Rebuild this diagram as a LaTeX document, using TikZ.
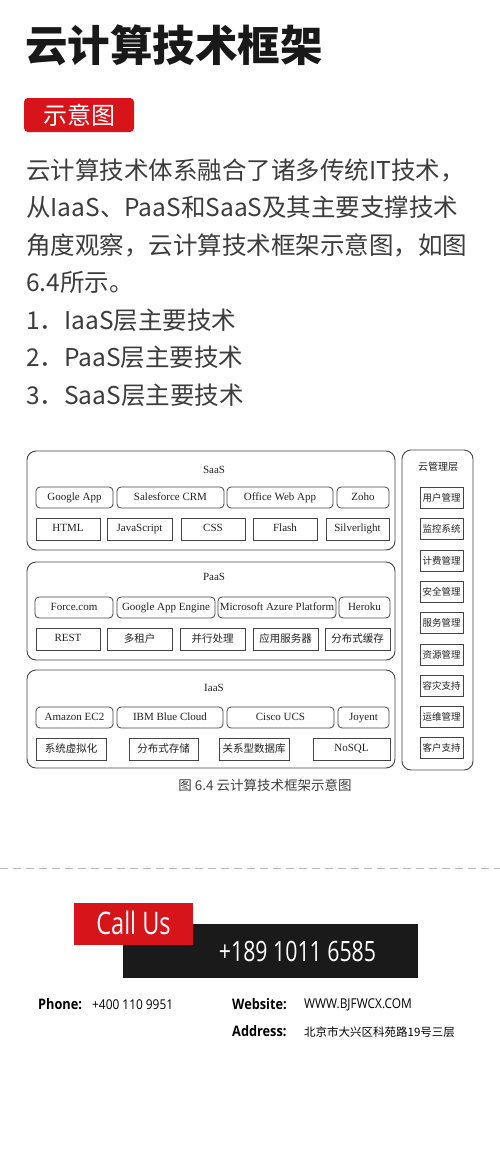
\documentclass[tikz,border=0pt]{standalone}
\usepackage{fontspec}
\setmainfont{Liberation Serif}
\newfontfamily\cjk{Noto Sans CJK SC}
\newfontfamily\tnr{Liberation Serif}
\newfontfamily\cond[FakeStretch=0.88]{Open Sans}
\newfontfamily\condcall[FakeStretch=0.76]{Open Sans}
\definecolor{linecol}{HTML}{444444}
\definecolor{diag}{HTML}{222222}
\definecolor{bodyc}{HTML}{3C3C3C}
\definecolor{redc}{HTML}{D7141A}
\definecolor{blk}{HTML}{1A1A1A}
\definecolor{dashc}{HTML}{BBBBBB}
\begin{document}
\begin{tikzpicture}[x=1pt,y=-1pt,
  layer/.style={draw=linecol,line width=0.9pt,rounded corners=9pt,inner sep=0pt},
  rb/.style={draw=linecol,line width=0.8pt,rounded corners=4pt,inner sep=0pt,minimum height=21pt,text height=7.6pt,text depth=2.4pt,text=diag,font=\tnr\fontsize{11}{13}\selectfont},
  sb/.style={draw=linecol,line width=0.8pt,inner sep=0pt,minimum height=22pt,text height=7.6pt,text depth=2.4pt,text=diag,font=\tnr\fontsize{11}{13}\selectfont},
  zb/.style={sb,text height=8pt,text depth=1.6pt,font=\cjk\fontsize{10.5}{12}\selectfont},
  mb/.style={draw=linecol,line width=0.8pt,inner sep=0pt,minimum width=43pt,minimum height=21pt,text=diag,font=\cjk\fontsize{9.5}{11}\selectfont},
  lbl/.style={inner sep=0pt,text=diag,font=\tnr\fontsize{11}{13}\selectfont},
  body/.style={anchor=west,inner sep=0pt,text=bodyc,font=\cjk\fontsize{24.5}{26}\selectfont},
  foot/.style={anchor=west,inner sep=0pt,text=black,font=\cond\fontsize{13.5}{15}\selectfont},
  footb/.style={anchor=west,inner sep=0pt,text=black,font=\cond\bfseries\fontsize{14.5}{16}\selectfont},
]
\useasboundingbox[fill=white] (0,0) rectangle (500,1170);

% title
\node[anchor=west,inner sep=0pt,font=\cjk\bfseries\fontsize{42.5}{46}\selectfont,text=black!90] (title) at (25,45) {云计算技术框架};
\node[fill=redc,rounded corners=4pt,minimum width=110pt,minimum height=34pt,inner sep=0pt,text=white,font=\cjk\fontsize{24}{26}\selectfont] (tag) at (79,115) {示意图};

% body text
\node[body] (l1) at (26,170) {云计算技术体系融合了诸多传统IT技术，};
\node[body] (l2) at (26,207.5) {从IaaS、PaaS和SaaS及其主要支撑技术};
\node[body] (l3) at (26,245) {角度观察，云计算技术框架示意图，如图};
\node[body] (l4) at (26,282.5) {6.4所示。};
\node[body] (l5) at (26,320) {1．IaaS层主要技术};
\node[body] (l6) at (26,357.5) {2．PaaS层主要技术};
\node[body] (l7) at (26,395) {3．SaaS层主要技术};

% SaaS layer
\node[layer,minimum width=368pt,minimum height=99pt] (saas) at (211,500.5) {};
\node[lbl] (saasl) at (214,470) {SaaS};
\node[rb,minimum width=77pt] (ga) at (74.5,497.5) {Google App};
\node[rb,minimum width=107pt] (sf) at (170.5,497.5) {Salesforce CRM};
\node[rb,minimum width=106pt] (ow) at (280,497.5) {Office Web App};
\node[rb,minimum width=52pt] (zo) at (363,497.5) {Zoho};
\node[sb,minimum width=64pt] (html) at (68,529) {HTML};
\node[sb,minimum width=65pt] (js) at (139.5,529) {JavaScript};
\node[sb,minimum width=64pt] (css) at (213,529) {CSS};
\node[sb,minimum width=64pt] (fl) at (285,529) {Flash};
\node[sb,minimum width=63pt] (sl) at (357.5,529) {Silverlight};

% PaaS layer
\node[layer,minimum width=368pt,minimum height=98pt] (paas) at (211,611) {};
\node[lbl] (paasl) at (214,577) {PaaS};
\node[rb,minimum width=78pt] (fc) at (74,607.5) {Force.com};
\node[rb,minimum width=98pt] (gae) at (166,607.5) {Google App Engine};
\node[rb,minimum width=118pt] (maz) at (277,607.5) {Microsoft Azure Platform};
\node[rb,minimum width=51pt] (her) at (364.5,607.5) {Heroku};
\node[sb,minimum width=64pt] (rest) at (68,639) {REST};
\node[zb,minimum width=65pt] (dzh) at (139.5,639) {多租户};
\node[zb,minimum width=65pt] (bx) at (212.5,639) {并行处理};
\node[zb,minimum width=65pt] (yy) at (285.5,639) {应用服务器};
\node[zb,minimum width=65pt] (hc) at (357.5,639) {分布式缓存};

% IaaS layer
\node[layer,minimum width=368pt,minimum height=98pt] (iaas) at (211,719) {};
\node[lbl] (iaasl) at (214,688) {IaaS};
\node[rb,minimum width=77pt] (ec2) at (74.5,717.5) {Amazon EC2};
\node[rb,minimum width=106pt] (ibm) at (170,717.5) {IBM Blue Cloud};
\node[rb,minimum width=107pt] (cis) at (280.5,717.5) {Cisco UCS};
\node[rb,minimum width=51pt] (joy) at (363.5,717.5) {Joyent};
\node[zb,minimum width=70pt] (xt) at (71,749) {系统虚拟化};
\node[zb,minimum width=69pt] (cc) at (163.5,749) {分布式存储};
\node[zb,minimum width=70pt] (gx) at (254,749) {关系型数据库};
\node[sb,minimum width=77pt] (nos) at (351.5,749) {NoSQL};

% management layer
\node[layer,minimum width=71pt,minimum height=320pt] (mgmt) at (437.5,610) {};
\node[inner sep=0pt,text=diag,font=\cjk\fontsize{10}{12}\selectfont] (mgl) at (438,467) {云管理层};
\node[mb] (m1) at (441.5,498) {用户管理};
\node[mb] (m2) at (441.5,529) {监控系统};
\node[mb] (m3) at (441.5,560.5) {计费管理};
\node[mb] (m4) at (441.5,592) {安全管理};
\node[mb] (m5) at (441.5,623) {服务管理};
\node[mb] (m6) at (441.5,654.5) {资源管理};
\node[mb] (m7) at (441.5,686) {容灾支持};
\node[mb] (m8) at (441.5,717) {运维管理};
\node[mb] (m9) at (441.5,748) {客户支持};

% caption
\node[inner sep=0pt,text=black!75,font=\cjk\fontsize{13.5}{15}\selectfont] (cap) at (265,785) {图 6.4 云计算技术框架示意图};

% dashed separator
\coordinate (dl) at (0,868);
\coordinate (dr) at (500,868);
\draw[dashc,line width=1pt,dash pattern=on 8pt off 5pt] (dl) -- (dr);

% call us
\node[fill=blk,minimum width=295pt,minimum height=54pt,inner sep=0pt] (phbox) at (270.5,951) {};
\node[fill=redc,minimum width=119pt,minimum height=42pt,inner sep=0pt] (callbox) at (133.5,924) {};
\node[inner sep=0pt,text=white,font=\condcall\fontsize{31}{33}\selectfont] (call) at (133.5,923) {Call Us};
\node[inner sep=0pt,text=white,font=\condcall\fontsize{28}{30}\selectfont] (num) at (297.5,951) {+189 1011 6585};

% contact lines
\node[footb] (ph) at (38,1004) {Phone:};
\node[foot] (phv) at (92,1005) {+400 110 9951};
\node[footb] (ws) at (232,1004) {Website:};
\node[foot] (wsv) at (304,1005) {WWW.BJFWCX.COM};
\node[footb] (ad) at (232,1031) {Address:};
\node[anchor=west,inner sep=0pt,text=black,font=\cjk\fontsize{11.5}{13}\selectfont] (adv) at (304,1032) {北京市大兴区科苑路19号三层};
\end{tikzpicture}
\end{document}
